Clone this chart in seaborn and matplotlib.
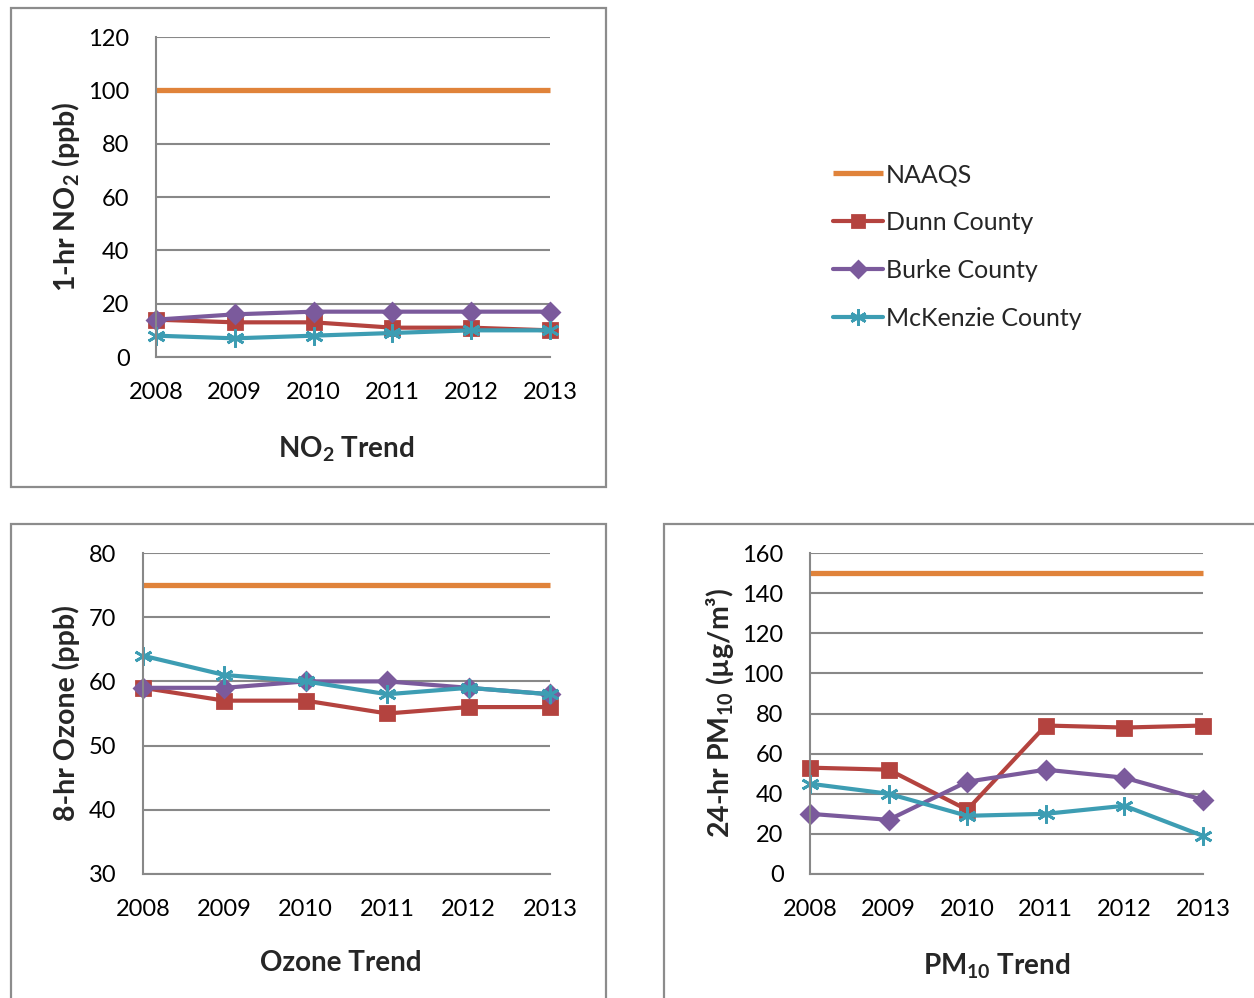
import numpy as np
import matplotlib
matplotlib.use("Agg")
import matplotlib.pyplot as plt
from matplotlib.patches import Rectangle
import seaborn as sns

# data
years = [2008, 2009, 2010, 2011, 2012, 2013]
series_names = ["NAAQS", "Dunn County", "Burke County", "McKenzie County"]

no2_naaqs = [100, 100, 100, 100, 100, 100]
no2_dunn = [14, 13, 13, 11, 11, 10]
no2_burke = [14, 16, 17, 17, 17, 17]
no2_mckenzie = [8, 7, 8, 9, 10, 10]

ozone_naaqs = [75, 75, 75, 75, 75, 75]
ozone_dunn = [59, 57, 57, 55, 56, 56]
ozone_burke = [59, 59, 60, 60, 59, 58]
ozone_mckenzie = [64, 61, 60, 58, 59, 58]

pm10_naaqs = [150, 150, 150, 150, 150, 150]
pm10_dunn = [53, 52, 32, 74, 73, 74]
pm10_burke = [30, 27, 46, 52, 48, 37]
pm10_mckenzie = [45, 40, 29, 30, 34, 19]

sns.set_style("white")
plt.rcParams["font.family"] = ["Lato", "DejaVu Sans"]
plt.rcParams["mathtext.fontset"] = "custom"
plt.rcParams["mathtext.rm"] = "Lato"
plt.rcParams["mathtext.bf"] = "Lato:bold"

colors = ["#E0833A", "#B4433F", "#7B5A9C", "#3D9DB3"]
markers = [None, "s", "D", (6, 2, 0)]
msizes = [0, 10, 9, 13]
grid_c = "#888888"

W, H = 1254, 998
fig = plt.figure(figsize=(W / 100, H / 100), dpi=100)


def px_axes(x0, y0, x1, y1):
    return fig.add_axes([x0 / W, 1 - y1 / H, (x1 - x0) / W, (y1 - y0) / H])


def draw_panel(ax, series, ymin, ymax, step):
    for i, vals in enumerate(series):
        if markers[i] is None:
            sns.lineplot(x=years, y=vals, ax=ax, color=colors[i], linewidth=3.8,
                         label=series_names[i], solid_capstyle="butt")
        else:
            sns.lineplot(x=years, y=vals, ax=ax, color=colors[i], linewidth=3.0,
                         marker=markers[i], markersize=msizes[i],
                         mec=colors[i], mfc=colors[i], mew=2,
                         label=series_names[i])
    ax.set_xlim(2008, 2013)
    ax.set_ylim(ymin, ymax)
    ax.set_xticks(years)
    ax.set_xticklabels([str(y) for y in years])
    ax.set_yticks(np.arange(ymin, ymax + 1, step))
    ax.yaxis.grid(True, color=grid_c, linewidth=1.5)
    ax.set_axisbelow(True)
    for s in ["top", "right"]:
        ax.spines[s].set_visible(False)
    for s in ["left", "bottom"]:
        ax.spines[s].set_color(grid_c)
        ax.spines[s].set_linewidth(1.5)
    ax.tick_params(axis="both", direction="out", length=8, width=1.5,
                   color=grid_c, labelsize=17, labelcolor="black")
    ax.tick_params(axis="y", pad=11)
    ax.tick_params(axis="x", pad=10)
    ax.set_xlabel("")
    ax.set_ylabel("")
    ax.get_legend().remove()
    for ln in ax.lines:
        ln.set_clip_on(False)


ax1 = px_axes(156, 37, 550, 357)
draw_panel(ax1, [no2_naaqs, no2_dunn, no2_burke, no2_mckenzie], 0, 120, 20)
ax2 = px_axes(143, 553, 550, 874)
draw_panel(ax2, [ozone_naaqs, ozone_dunn, ozone_burke, ozone_mckenzie], 30, 80, 10)
ax3 = px_axes(810, 553, 1203, 874)
draw_panel(ax3, [pm10_naaqs, pm10_dunn, pm10_burke, pm10_mckenzie], 0, 160, 20)

# panel frames
for (x0, y0, x1, y1) in [(11, 8, 606, 487), (11, 524, 606, 1010), (664, 524, 1265, 1010)]:
    fig.add_artist(Rectangle((x0 / W, 1 - y1 / H), (x1 - x0) / W, (y1 - y0) / H,
                             transform=fig.transFigure, fill=False,
                             edgecolor="#8C8C8C", linewidth=1.6, clip_on=False))

# axis titles and chart titles
fig.text(66 / W, 1 - 197 / H, r"1-hr NO$_\mathbf{2}$ (ppb)", rotation=90,
         ha="center", va="center", fontsize=20.5, fontweight="bold")
fig.text(66 / W, 1 - 713 / H, "8-hr Ozone (ppb)", rotation=90,
         ha="center", va="center", fontsize=20.5, fontweight="bold")
fig.text(720 / W, 1 - 713 / H, r"24-hr PM$_\mathbf{10}$ (µg/m³)", rotation=90,
         ha="center", va="center", fontsize=20.5, fontweight="bold")

fig.text(346 / W, 1 - 449 / H, r"NO$_\mathbf{2}$ Trend", ha="center", va="center",
         fontsize=20, fontweight="bold")
fig.text(341 / W, 1 - 963 / H, "Ozone Trend", ha="center", va="center",
         fontsize=20, fontweight="bold")
fig.text(997 / W, 1 - 966 / H, r"PM$_\mathbf{10}$ Trend", ha="center", va="center",
         fontsize=20, fontweight="bold")

handles, labels = ax1.get_legend_handles_labels()
fig.legend(handles, labels, loc="upper left",
           bbox_to_anchor=(833 / W, 1 - 163 / H), frameon=False,
           fontsize=18, handlelength=2.0, handletextpad=0.12,
           labelspacing=1.0, borderpad=0, borderaxespad=0, markerscale=0.9)

fig.savefig("out.png", dpi=100)
